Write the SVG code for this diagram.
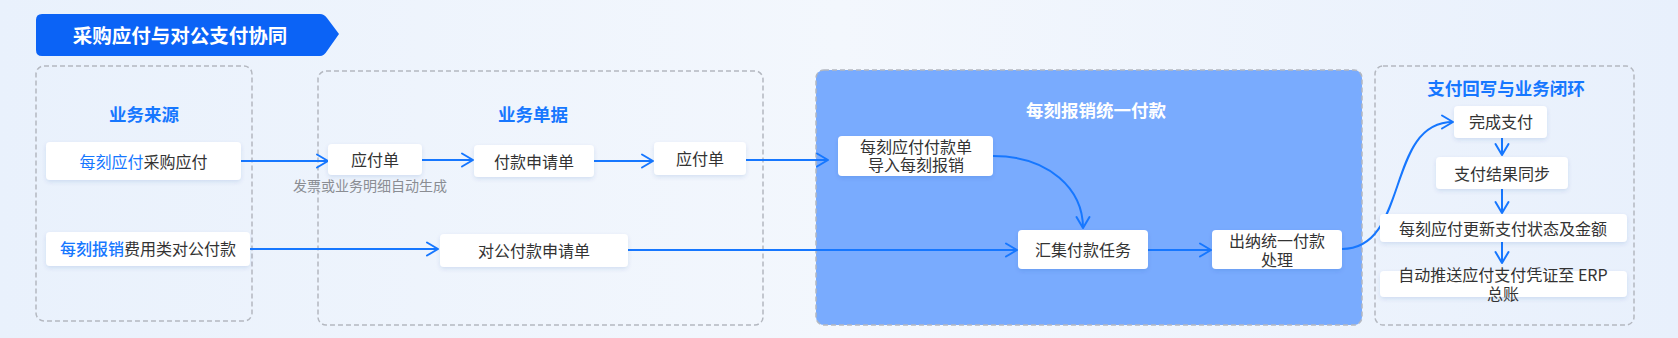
<svg xmlns="http://www.w3.org/2000/svg" width="1678" height="338" viewBox="0 0 1678 338">
<style>
text{font-family:"Noto Sans CJK SC","Noto Sans",sans-serif;dominant-baseline:central;text-anchor:middle}
.grp{fill:none;stroke:#b4b8c0;stroke-width:1.5;stroke-dasharray:5 3}
.gt{font-size:17.5px;font-weight:700;fill:#1677ff}
.node{fill:#ffffff;filter:url(#sh)}
.nt{font-size:16px;fill:#333333}
.hl{fill:#1677ff}
.cap{font-size:14px;fill:#8a8d93}
.con{fill:none;stroke:#1677ff;stroke-width:2;marker-end:url(#ar)}
</style>
<defs>
<linearGradient id="bg" x1="0" y1="0" x2="1" y2="0">
<stop offset="0" stop-color="#e9f1fc"/>
<stop offset="0.5" stop-color="#f3f7fd"/>
<stop offset="1" stop-color="#e8f0fc"/>
</linearGradient>
<filter id="sh" x="-20%" y="-30%" width="140%" height="170%">
<feDropShadow dx="0" dy="2" stdDeviation="2" flood-color="#1a4fa0" flood-opacity="0.12"/>
</filter>
<marker id="ar" viewBox="-13 -8 15 16" refX="0" refY="0" markerWidth="15" markerHeight="16" markerUnits="userSpaceOnUse" orient="auto">
<path d="M-11,-6.5 L0,0 L-11,6.5" fill="none" stroke="#1677ff" stroke-width="2" stroke-linecap="round" stroke-linejoin="round"/>
</marker>
</defs>
<rect x="0" y="0" width="1678" height="338" fill="url(#bg)"/>

<g id="title">
<path d="M42,14 H320 Q324,14 327,18 L339,34 L327,51 Q324,56 320,56 H42 Q36,56 36,50 V20 Q36,14 42,14 Z" fill="#0b63f6"/>
<text x="180" y="34" font-size="19.5" font-weight="700" fill="#ffffff">采购应付与对公支付协同</text>
</g>

<g id="group-source">
<rect class="grp" x="36" y="66" width="216" height="255" rx="8"/>
<text class="gt" x="144" y="113">业务来源</text>
</g>
<g id="group-docs">
<rect class="grp" x="318" y="71" width="445" height="254" rx="8"/>
<text class="gt" x="533" y="113">业务单据</text>
</g>
<g id="group-pay">
<rect x="816" y="70" width="546" height="255" rx="8" fill="#79abfe" stroke="#b4b8c0" stroke-width="1.5" stroke-dasharray="5 3"/>
<text class="gt" x="1096" y="109" style="fill:#ffffff">每刻报销统一付款</text>
</g>
<g id="group-loop">
<rect class="grp" x="1375" y="66" width="259" height="259" rx="8"/>
<text class="gt" x="1506" y="87">支付回写与业务闭环</text>
</g>

<g id="connectors">
<path class="con" d="M241,161 H328"/>
<path class="con" d="M422,160 H473"/>
<path class="con" d="M594,161 H653"/>
<path class="con" d="M746,160 H828"/>
<path class="con" d="M250,249 H438"/>
<path class="con" d="M628,250 H1017"/>
<path class="con" d="M993,156 C1050,156 1083,190 1083,228"/>
<path class="con" d="M1148,250 H1211"/>
<path class="con" d="M1342,249 C1410,249 1385,122 1453,122"/>
<path class="con" d="M1502,138 V155"/>
<path class="con" d="M1502,189 V213"/>
<path class="con" d="M1502,242 V263"/>
</g>

<g id="n-ap-source">
<rect class="node" x="46" y="142" width="195" height="38" rx="4"/>
<text class="nt" x="143.5" y="161"><tspan class="hl">每刻应付</tspan>采购应付</text>
</g>
<g id="n-exp-source">
<rect class="node" x="46" y="232" width="204" height="34" rx="4"/>
<text class="nt" x="148" y="248"><tspan class="hl" font-weight="500">每刻报销</tspan>费用类对公付款</text>
</g>
<g id="n-ap1">
<rect class="node" x="328" y="144" width="94" height="31" rx="4"/>
<text class="nt" x="375" y="159">应付单</text>
</g>
<text class="cap" x="370" y="185">发票或业务明细自动生成</text>
<g id="n-payreq">
<rect class="node" x="474" y="145" width="120" height="32" rx="4"/>
<text class="nt" x="534" y="161">付款申请单</text>
</g>
<g id="n-ap2">
<rect class="node" x="654" y="142" width="92" height="33" rx="4"/>
<text class="nt" x="700" y="158">应付单</text>
</g>
<g id="n-corpreq">
<rect class="node" x="440" y="234" width="188" height="33" rx="4"/>
<text class="nt" x="534" y="250">对公付款申请单</text>
</g>
<g id="n-import">
<rect class="node" x="838" y="136" width="155" height="40" rx="4"/>
<text class="nt" x="916" y="146"><tspan x="916" y="146">每刻应付付款单</tspan><tspan x="916" y="164">导入每刻报销</tspan></text>
</g>
<g id="n-collect">
<rect class="node" x="1018" y="230" width="130" height="39" rx="4"/>
<text class="nt" x="1083" y="249">汇集付款任务</text>
</g>
<g id="n-cashier">
<rect class="node" x="1212" y="230" width="130" height="39" rx="4"/>
<text class="nt" x="1277" y="240"><tspan x="1277" y="240">出纳统一付款</tspan><tspan x="1277" y="259">处理</tspan></text>
</g>
<g id="n-done">
<rect class="node" x="1454" y="106" width="93" height="32" rx="4"/>
<text class="nt" x="1501" y="121">完成支付</text>
</g>
<g id="n-sync">
<rect class="node" x="1436" y="157" width="132" height="32" rx="4"/>
<text class="nt" x="1502" y="173">支付结果同步</text>
</g>
<g id="n-update">
<rect class="node" x="1380" y="214" width="247" height="28" rx="4"/>
<text class="nt" x="1503" y="228">每刻应付更新支付状态及金额</text>
</g>
<g id="n-erp">
<rect class="node" x="1380" y="271" width="247" height="26" rx="4"/>
<text class="nt" x="1503" y="274"><tspan x="1503" y="274">自动推送应付支付凭证至 ERP</tspan><tspan x="1503" y="293">总账</tspan></text>
</g>
</svg>
